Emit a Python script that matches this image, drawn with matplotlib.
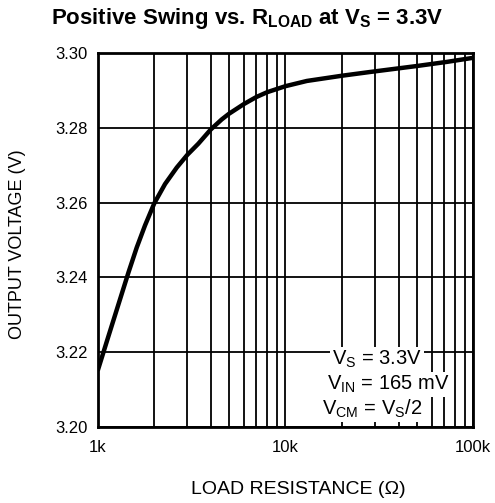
import numpy as np
import matplotlib.pyplot as plt
from matplotlib.ticker import FixedLocator, FixedFormatter, NullFormatter

plt.rcParams['font.family'] = ['Liberation Sans', 'DejaVu Sans']
plt.rcParams['mathtext.fontset'] = 'custom'
plt.rcParams['mathtext.rm'] = 'Liberation Sans'
plt.rcParams['mathtext.bf'] = 'Liberation Sans:bold'

# curve
r_load = [1000, 1140, 1460, 1614, 1786, 2000, 2284, 2636, 3000, 3436, 4000, 4577,
          5000, 6000, 7000, 8000, 10000, 13000, 20000, 28200, 50100, 72300, 100000]
v_out = [3.2150, 3.2242, 3.2414, 3.2480, 3.2539, 3.2598, 3.2650, 3.2694, 3.2728, 3.2758,
         3.2796, 3.2823, 3.2838, 3.2864, 3.2883, 3.2896, 3.2912, 3.2926, 3.2940, 3.2950,
         3.2966, 3.2977, 3.2988]

x_ticks = [1000, 10000, 100000]
x_labels = ['1k', '10k', '100k']
y_ticks = [3.20, 3.22, 3.24, 3.26, 3.28, 3.30]
y_labels = ['3.20', '3.22', '3.24', '3.26', '3.28', '3.30']

fig = plt.figure(figsize=(4.95, 5.03), dpi=100)
ax = fig.add_axes([0.1974, 0.1517, 0.7586, 0.7423])

ax.plot(r_load, v_out, color='black', lw=3.2, solid_capstyle='butt',
        solid_joinstyle='round', zorder=3)

ax.set_xscale('log')
ax.set_xlim(1000, 100000)
ax.set_ylim(3.20, 3.30)
ax.xaxis.set_major_locator(FixedLocator(x_ticks))
ax.xaxis.set_major_formatter(FixedFormatter(x_labels))
minors = [m * d for d in (1000, 10000) for m in range(2, 10)]
ax.xaxis.set_minor_locator(FixedLocator(minors))
ax.xaxis.set_minor_formatter(NullFormatter())
ax.yaxis.set_major_locator(FixedLocator(y_ticks))
ax.yaxis.set_major_formatter(FixedFormatter(y_labels))

ax.grid(True, which='both', axis='x', color='black', lw=1.3)
ax.grid(True, which='major', axis='y', color='black', lw=1.3)
ax.tick_params(which='both', length=0, labelsize=12)
ax.tick_params(axis='x', pad=9.5)
ax.tick_params(axis='y', pad=7)
for s in ax.spines.values():
    s.set_linewidth(2)

ax.set_xlabel('LOAD RESISTANCE (Ω)', fontsize=14)
ax.xaxis.set_label_coords(0.533, -0.146)
ax.set_ylabel('OUTPUT VOLTAGE (V)', fontsize=13)
ax.yaxis.set_label_coords(-0.191, 0.49)

fig.text(0.5, 0.952, r'Positive Swing vs. R$_{\mathbf{LOAD}}$ at V$_{\mathbf{S}}$ = 3.3V',
         fontsize=16, fontweight='bold', ha='center', va='baseline')

notes = [r'V$_{\mathrm{S}}$ = 3.3V', r'V$_{\mathrm{IN}}$ = 165 mV', r'V$_{\mathrm{CM}}$ = V$_{\mathrm{S}}$/2']
note_x = [0.6248, 0.6098, 0.5965]
note_y = [0.165, 0.0983, 0.0313]
for t, nx, ny in zip(notes, note_x, note_y):
    ax.text(nx, ny, t, transform=ax.transAxes, fontsize=14.5, ha='left', va='baseline',
            zorder=4, bbox=dict(facecolor='white', edgecolor='none', pad=1.5))

fig.savefig('out.png', dpi=100)
